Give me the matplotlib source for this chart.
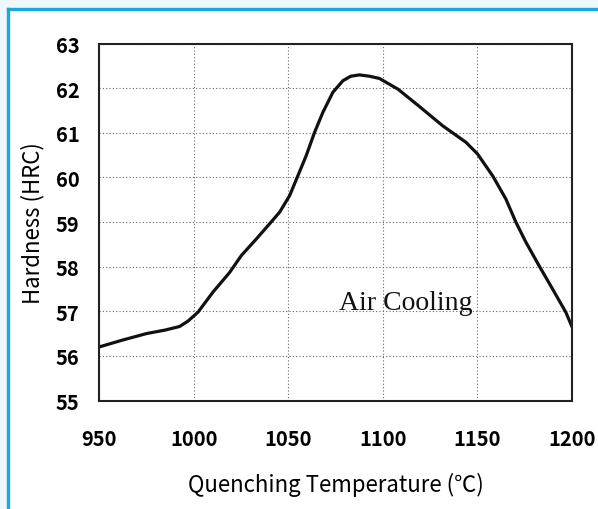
import matplotlib
matplotlib.use("Agg")
import matplotlib.pyplot as plt
from matplotlib.lines import Line2D
from matplotlib.patches import Rectangle

plt.rcParams["font.family"] = ["Noto Sans CJK JP", "DejaVu Sans"]

# curve (quenching temp in degC, hardness in HRC)
temps = [950, 962, 975, 985, 992.6, 997, 1002.3, 1010.2, 1019, 1025.2, 1033.1,
         1040.1, 1045.4, 1050.7, 1055.1, 1059.5, 1063.9, 1068.3, 1073.6, 1078.9,
         1083, 1087.6, 1093, 1098.2, 1108, 1118.8, 1131.6, 1143.9, 1150, 1158,
         1165, 1170.3, 1175.6, 1182.6, 1189.7, 1196.7, 1200]
hardness = [56.2, 56.35, 56.5, 56.58, 56.66, 56.78, 56.98, 57.43, 57.87, 58.25,
            58.62, 58.96, 59.22, 59.59, 60.04, 60.49, 61.01, 61.46, 61.91, 62.17,
            62.27, 62.3, 62.27, 62.22, 61.98, 61.61, 61.16, 60.79, 60.53, 60.04,
            59.52, 59.0, 58.55, 58.02, 57.5, 56.98, 56.65]

xticks = [950, 1000, 1050, 1100, 1150, 1200]
yticks = [55, 56, 57, 58, 59, 60, 61, 62, 63]

fig = plt.figure(figsize=(5.98, 5.10), dpi=100)
ax = fig.add_axes([0.1656, 0.2127, 0.791, 0.6997])

ax.plot(temps, hardness, color="#111111", linewidth=2.3,
        solid_capstyle="round", solid_joinstyle="round")
ax.set_xlim(950, 1200)
ax.set_ylim(55, 63)
ax.set_xticks(xticks)
ax.set_yticks(yticks)
ax.tick_params(length=0, labelsize=14.5)
ax.tick_params(axis="x", pad=20)
ax.tick_params(axis="y", pad=14)
for lab in ax.get_xticklabels() + ax.get_yticklabels():
    lab.set_fontweight("bold")
ax.grid(True, linestyle=(0, (1, 2)), color="#666666", linewidth=0.8)
for sp in ax.spines.values():
    sp.set_linewidth(1.5)
    sp.set_color("#222222")

ax.set_xlabel("Quenching Temperature (℃)", fontsize=16, labelpad=16)
ax.set_ylabel("Hardness (HRC)", fontsize=16, labelpad=8)

ax.text(1077, 57.2, "Air Cooling", family="Liberation Serif", fontsize=20,
        va="center", ha="left", color="#111111")

# light tint and blue frame lines (top and left only)
fig.add_artist(Rectangle((0, 1 - 8 / 510), 1, 8 / 510, transform=fig.transFigure,
                         color="#eef7fc", zorder=-1))
fig.add_artist(Rectangle((0, 0), 6 / 598, 1, transform=fig.transFigure,
                         color="#eef7fc", zorder=-1))
fig.add_artist(Line2D([7.5 / 598, 1], [1 - 9.5 / 510, 1 - 9.5 / 510],
                      transform=fig.transFigure, color="#1aa8e0", linewidth=2.4))
fig.add_artist(Line2D([7.5 / 598, 7.5 / 598], [0, 1 - 9.5 / 510],
                      transform=fig.transFigure, color="#1aa8e0", linewidth=2.4))

fig.savefig("out.png", dpi=100)
